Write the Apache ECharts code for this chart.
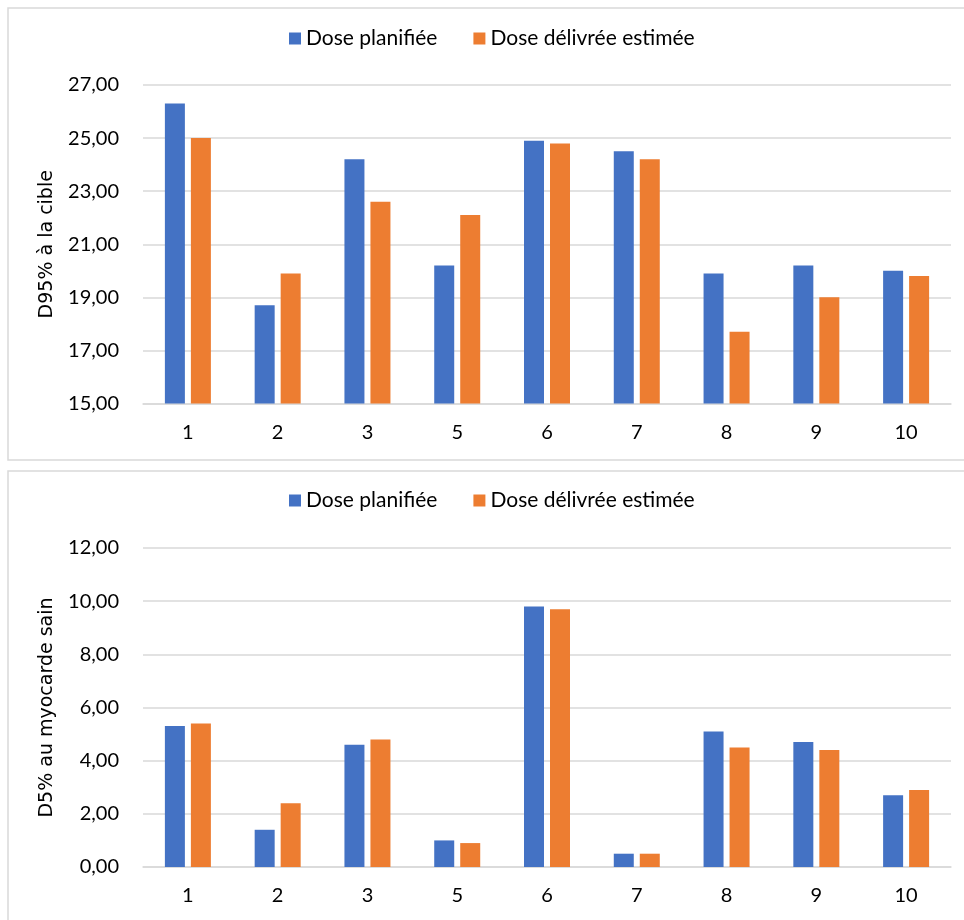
<!DOCTYPE html>
<html>
<head>
<meta charset="utf-8">
<script src="https://cdn.jsdelivr.net/npm/echarts@6/dist/echarts.min.js"></script>
<style>
html,body{margin:0;padding:0;background:#fff;}
#c{width:964px;height:920px;}
</style>
</head>
<body>
<div id="c"></div>
<script>
const categories = ['1','2','3','5','6','7','8','9','10'];
const seriesNames = ['Dose planifiée','Dose délivrée estimée'];
const d95Planned = [26.3,18.7,24.2,20.2,24.9,24.5,19.9,20.2,20.0];
const d95Delivered = [25.0,19.9,22.6,22.1,24.8,24.2,17.7,19.0,19.8];
const d5Planned = [5.3,1.4,4.6,1.0,9.8,0.5,5.1,4.7,2.7];
const d5Delivered = [5.4,2.4,4.8,0.9,9.7,0.5,4.5,4.4,2.9];
const yNameTop = 'D95% à la cible';
const yNameBottom = 'D5% au myocarde sain';

const colors = ['#4472C4','#ED7D31'];
const gridColor = '#d9d9d9';
const fmt = v => v.toFixed(2).replace('.', ',');

function xAxis(gi){
  return {
    type:'category', gridIndex:gi, data:categories,
    axisTick:{show:false},
    axisLine:{lineStyle:{color:gridColor,width:1.5}},
    axisLabel:{color:'#000',fontFamily:'Lato',fontSize:20,margin:19}
  };
}
function yAxis(gi,min,max,name){
  return {
    type:'value', gridIndex:gi, min:min, max:max, interval:2,
    name:name, nameLocation:'middle', nameGap:86,
    nameTextStyle:{color:'#000',fontFamily:'DejaVu Sans',fontSize:19},
    axisLine:{show:false}, axisTick:{show:false},
    axisLabel:{color:'#000',fontFamily:'Lato',fontSize:20,margin:24,formatter:fmt},
    splitLine:{lineStyle:{color:gridColor,width:1.5}}
  };
}
function bar(name,gi,data,ci){
  return {
    type:'bar', name:name, xAxisIndex:gi, yAxisIndex:gi, data:data,
    barWidth:20, barGap:'30%',
    itemStyle:{color:colors[ci]}
  };
}
function legend(top){
  return {
    top:top, left:289, padding:0, itemWidth:12, itemHeight:12, itemGap:36,
    icon:'rect',
    textStyle:{color:'#000',fontFamily:'Lato',fontSize:21},
    data:seriesNames
  };
}

const chart = echarts.init(document.getElementById('c'),null,{renderer:'canvas'});
chart.setOption({
  animation:false,
  color:colors,
  graphic:[
    {type:'rect',shape:{x:8,y:8,width:980,height:452},style:{fill:'none',stroke:'#d9d9d9',lineWidth:1.5},silent:true},
    {type:'rect',shape:{x:8,y:471,width:980,height:480},style:{fill:'none',stroke:'#d9d9d9',lineWidth:1.5},silent:true}
  ],
  legend:[legend(28),legend(490)],
  grid:[
    {left:143,right:13,top:85,height:318.5},
    {left:143,right:13,top:548,height:319}
  ],
  xAxis:[xAxis(0),xAxis(1)],
  yAxis:[yAxis(0,15,27,yNameTop),yAxis(1,0,12,yNameBottom)],
  series:[
    bar(seriesNames[0],0,d95Planned,0),
    bar(seriesNames[1],0,d95Delivered,1),
    bar(seriesNames[0],1,d5Planned,0),
    bar(seriesNames[1],1,d5Delivered,1)
  ]
});
</script>
</body>
</html>
